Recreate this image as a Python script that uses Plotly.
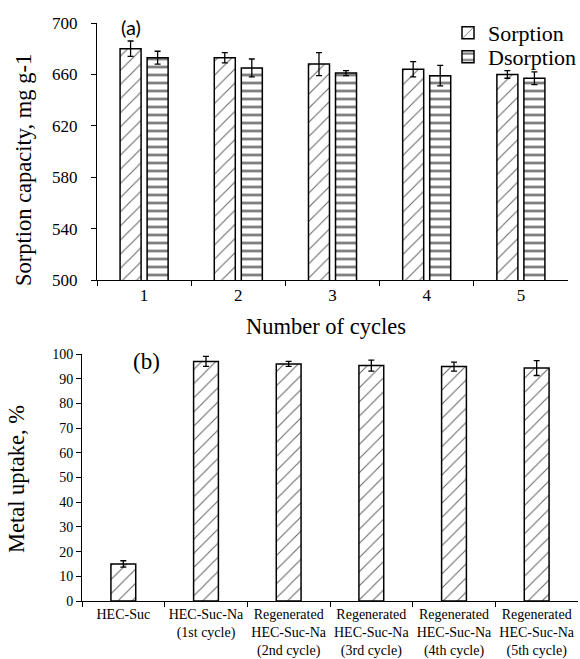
import plotly.graph_objects as go

# Panel (a): sorption / desorption capacity over five cycles
cycles = ["1", "2", "3", "4", "5"]
sorption = [680, 673, 668, 664, 660]
sorption_err = [6, 4, 9, 6, 3]
desorption = [673, 665, 661, 659, 657]
desorption_err = [5, 7, 2, 8, 5]

# Panel (b): metal uptake per material
materials = [
    "HEC-Suc",
    "HEC-Suc-Na<br>(1st cycle)",
    "Regenerated<br>HEC-Suc-Na<br>(2nd cycle)",
    "Regenerated<br>HEC-Suc-Na<br>(3rd cycle)",
    "Regenerated<br>HEC-Suc-Na<br>(4th cycle)",
    "Regenerated<br>HEC-Suc-Na<br>(5th cycle)",
]
uptake = [15, 97, 96, 95.3, 94.9, 94.3]
uptake_err = [1.3, 2, 1, 2.2, 1.8, 3]

W, H = 580, 659
SERIF = "Liberation Serif"


def px_x(p):
    return p / W


def px_y(p):
    return 1 - p / H


err_style = dict(type="data", color="black", thickness=1.3, width=3, visible=True)
outline = dict(color="black", width=1.5)
diag = dict(shape="/", fgcolor="black", bgcolor="white", size=10,
            solidity=0.1, fgopacity=0.6)
dash = dict(shape="-", fgcolor="black", bgcolor="white", size=8,
            solidity=0.35)

fig = go.Figure()

fig.add_trace(go.Bar(
    x=cycles, y=sorption, name="Sorption", legend="legend",
    offset=-0.255, width=0.223,
    marker=dict(color="white", line=outline, pattern=diag),
    error_y=dict(array=sorption_err, **err_style),
    xaxis="x", yaxis="y",
))
fig.add_trace(go.Bar(
    x=cycles, y=desorption, name="Dsorption", legend="legend2",
    offset=0.032, width=0.223,
    marker=dict(color="white", line=outline, pattern=dash),
    error_y=dict(array=desorption_err, **err_style),
    xaxis="x", yaxis="y",
))
fig.add_trace(go.Bar(
    x=materials, y=uptake, name="uptake", showlegend=False,
    width=0.30,
    marker=dict(color="white", line=outline, pattern=diag),
    error_y=dict(array=uptake_err, **err_style),
    xaxis="x2", yaxis="y2",
))

axis_common = dict(showgrid=False, zeroline=False, showline=True,
                   linecolor="black", linewidth=1, ticks="outside",
                   tickcolor="black", ticklen=5, tickwidth=1,
                   automargin=False)

legend_common = dict(xanchor="left", yanchor="middle",
                     bgcolor="rgba(0,0,0,0)", font=dict(size=22, family=SERIF),
                     itemwidth=30)


def label(text, x, y, size, family=SERIF, angle=0):
    return dict(text=text, x=px_x(x), y=px_y(y), xref="paper", yref="paper",
                xanchor="center", yanchor="middle", showarrow=False,
                textangle=angle, font=dict(size=size, family=family))


fig.update_layout(
    width=W, height=H,
    margin=dict(l=0, r=0, t=0, b=0, autoexpand=False),
    paper_bgcolor="white", plot_bgcolor="white",
    barmode="overlay",
    font=dict(family=SERIF, color="black"),
    xaxis=dict(domain=[px_x(97), px_x(568)], anchor="y", type="category",
               range=[-0.5, 4.5], tickson="boundaries", tickangle=0,
               tickfont=dict(size=17, family=SERIF), **axis_common),
    yaxis=dict(domain=[px_y(280), px_y(23)], anchor="x",
               range=[500, 700], tickvals=[500, 540, 580, 620, 660, 700],
               tickfont=dict(size=17, family=SERIF), ticklabelstandoff=10,
               **axis_common),
    xaxis2=dict(domain=[px_x(82), px_x(578)], anchor="y2", type="category",
                range=[-0.5, 5.5], tickson="boundaries", tickangle=0,
                ticklabelstandoff=0,
                tickfont=dict(size=14, family=SERIF), **axis_common),
    yaxis2=dict(domain=[px_y(601), px_y(354)], anchor="x2",
                range=[0, 100], dtick=10,
                tickfont=dict(size=14, family=SERIF), **axis_common),
    legend=dict(x=px_x(448), y=px_y(33), **legend_common),
    legend2=dict(x=px_x(448), y=px_y(57), **legend_common),
    annotations=[
        label("(a)", 131, 27, 20, family="Lato"),
        label("(b)", 146, 362, 23),
        label("Number of cycles", 326, 326, 22.5),
        label("Sorption capacity, mg g-1", 24, 170, 22.5, angle=-90),
        label("Metal uptake, %", 16, 479, 22.5, angle=-90),
    ],
)

fig.write_html("out.html")
